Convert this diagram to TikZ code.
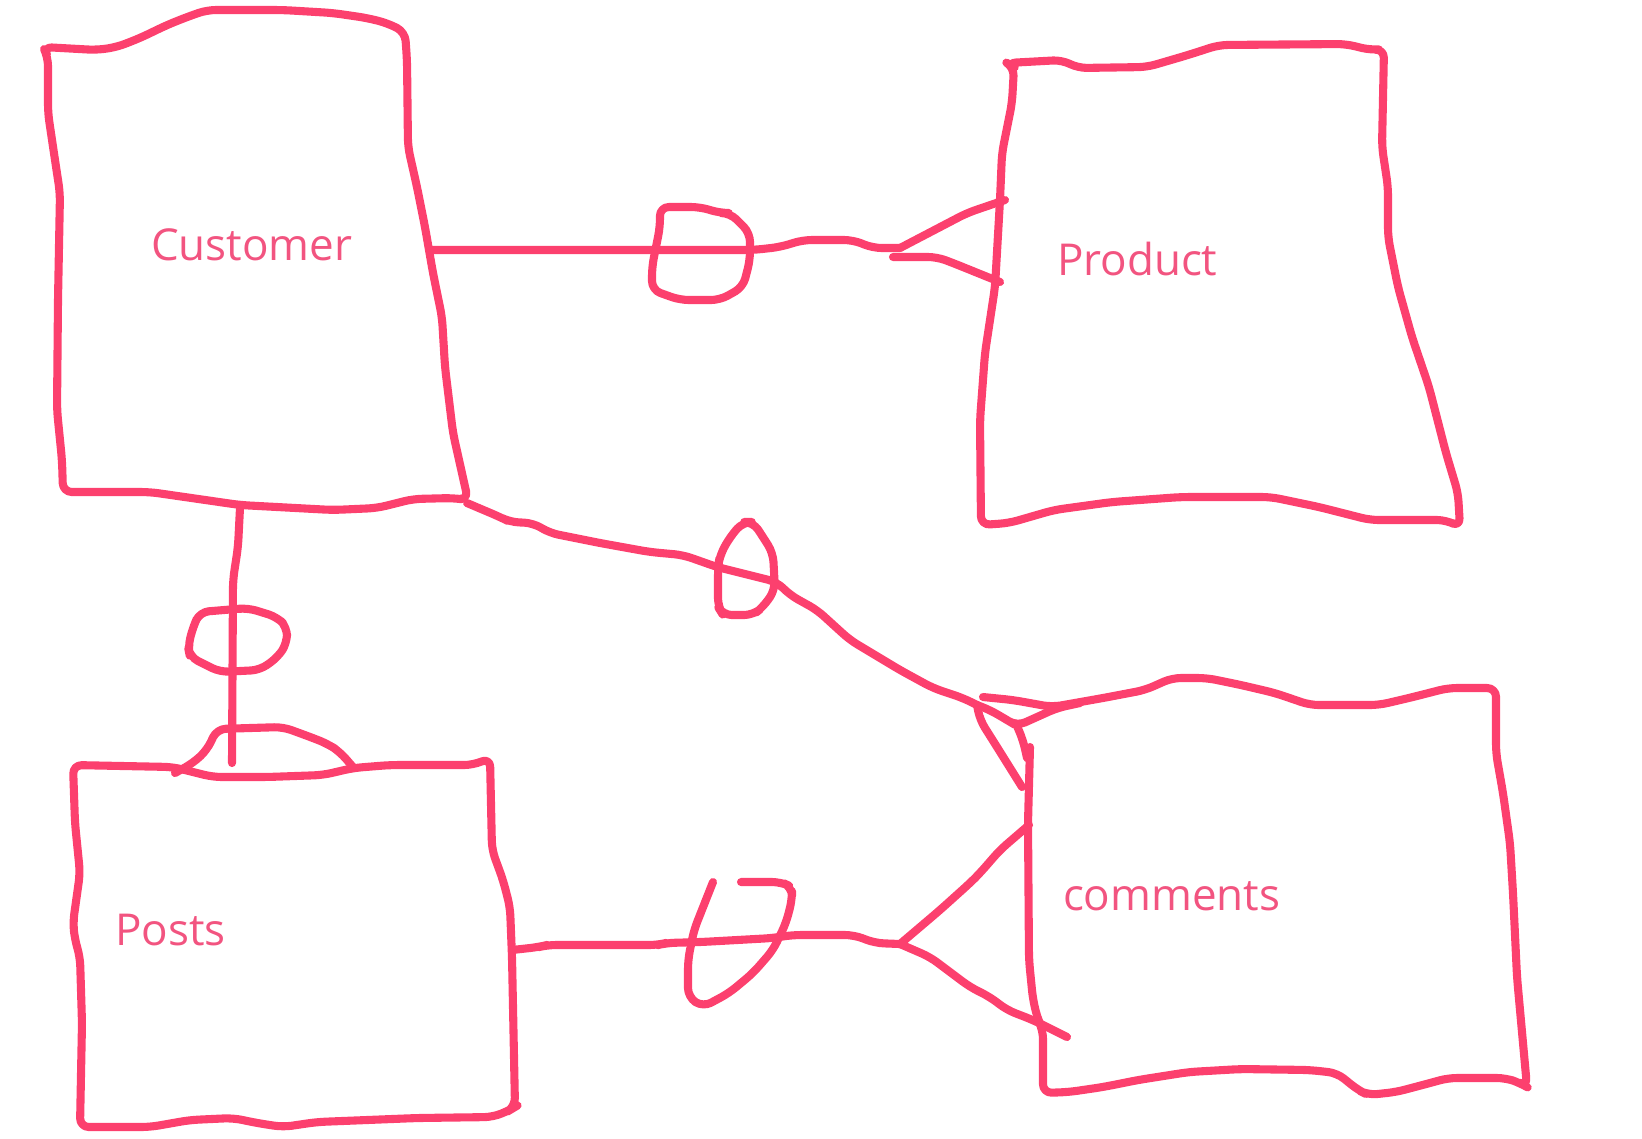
\documentclass[tikz,border=0pt]{standalone}
\usepackage{fontspec}
\setmainfont{Open Sans}
\definecolor{inkred}{RGB}{252,64,110}
\definecolor{inktext}{RGB}{242,84,128}

\begin{document}
\begin{tikzpicture}
[x=0.01cm, y=-0.01cm, line width=2.3pt, line cap=round, line join=round,
 ink/.style={draw=inkred, rounded corners=2.5pt},
 entity/.style={inner sep=0pt, anchor=base west, text=inktext, font=\fontsize{12.5}{15}\selectfont}]
\useasboundingbox (0,0) rectangle (1642,1138);

\node [entity] (customer) at (147,260) {Customer};
\node [entity] (product) at (1053,275) {Product};
\node [entity] (posts) at (111,945) {Posts};
\node [entity] (comments) at (1059,910) {comments};

\coordinate (cust-e) at (430,250);
\coordinate (cust-s) at (240,508);
\coordinate (cust-se) at (467,503);
\coordinate (prod-foot) at (900,248);
\coordinate (posts-n) at (232,763);
\coordinate (posts-e) at (512,950);
\coordinate (comm-nw) at (977,705);
\coordinate (comm-foot) at (900,944);

\draw [ink] (43,47) -- (97,50) -- (117,47) -- (140,38) -- (167,25) -- (187,17) -- (207,10) -- (283,10) -- (333,13) -- (367,18) -- (387,23) -- (405,32) -- (407,60) -- (408,147) -- (417,187) -- (425,227) -- (433,273) -- (442,317) -- (445,367) -- (453,433) -- (468,500) -- (453,498) -- (413,499) -- (377,508) -- (333,510) -- (240,505) -- (150,492) -- (63,492) -- (62,460) -- (57,410) -- (58,300) -- (60,193) -- (55,160) -- (48,113) -- (48,57) -- cycle;
\draw [ink] (1007,63) -- (1062,60) -- (1078,68) -- (1147,67) -- (1188,55) -- (1219,45) -- (1346,44) -- (1370,50) -- (1384,49) -- (1382,147) -- (1388,187) -- (1388,237) -- (1398,287) -- (1412,337) -- (1429,387) -- (1446,453) -- (1458,493) -- (1460,527) -- (1446,520) -- (1370,520) -- (1319,507) -- (1271,497) -- (1181,497) -- (1112,502) -- (1054,510) -- (1009,523) -- (981,525) -- (980,420) -- (985,353) -- (995,287) -- (1000,200) -- (1002,153) -- (1012,103) -- (1014,67) -- cycle;
\draw [ink] (73,765) -- (173,767) -- (213,777) -- (267,777) -- (323,775) -- (353,768) -- (390,765) -- (473,765) -- (490,758) -- (492,850) -- (503,880) -- (510,907) -- (512,957) -- (513,1007) -- (515,1107) -- (510,1110) -- (493,1117) -- (417,1118) -- (317,1122) -- (283,1127) -- (257,1123) -- (233,1118) -- (190,1120) -- (150,1127) -- (80,1127) -- (82,1023) -- (80,957) -- (75,940) -- (73,923) -- (80,873) -- (75,823) -- cycle;
\draw [ink] (1030,747) -- (1028,823) -- (1029,960) -- (1033,1000) -- (1038,1020) -- (1043,1030) -- (1043,1093) -- (1069,1092) -- (1103,1087) -- (1138,1080) -- (1189,1072) -- (1241,1069) -- (1310,1070) -- (1337,1073) -- (1358,1090) -- (1368,1095) -- (1396,1092) -- (1430,1083) -- (1448,1078) -- (1506,1078) -- (1520,1083) -- (1527,1087) -- (1523,1043) -- (1517,977) -- (1513,893) -- (1510,843) -- (1503,793) -- (1496,753) -- (1496,688) -- (1448,688) -- (1413,697) -- (1379,705) -- (1310,705) -- (1275,693) -- (1241,685) -- (1207,678) -- (1172,678) -- (1145,690) -- (1103,698) -- (1052,707) -- (1013,700) -- (983,697);

\draw [ink] (cust-e) -- (753,250) -- (780,247) -- (803,240) -- (853,240) -- (873,248) -- (prod-foot);
\draw [ink] (prod-foot) -- (967,213) -- (1005,200);
\draw [ink] (893,257) -- (937,257) -- (953,263) -- (1000,282);
\draw [ink] (660,207) -- (700,207) -- (720,213) -- (730,213) -- (750,233) -- (750,260) -- (743,287) -- (720,300) -- (680,300) -- (652,290) -- (652,267) -- (660,227) -- cycle;

\draw [ink] (cust-s) -- (238,547) -- (233,580) -- (posts-n);
\draw [ink] (200,612) -- (248,608) -- (277,617) -- (287,627) -- (287,643) -- (278,657) -- (260,670) -- (220,672) -- (190,657) -- (188,647) -- (193,627) -- cycle;
\draw [ink] (175,773) -- (193,763) -- (207,750) -- (217,729) -- (283,727) -- (313,738) -- (328,744) -- (340,752) -- (353,767);

\draw [ink] (cust-se) -- (500,517) -- (510,522) -- (533,523) -- (550,533) -- (600,543) -- (650,552) -- (683,555) -- (717,567) -- (777,582) -- (790,595) -- (817,610) -- (850,640) -- (900,670) -- (933,688) -- (963,698) -- (comm-nw);
\draw [ink] (718,567) -- (720,555) -- (730,537) -- (743,522) -- (753,522) -- (763,537) -- (773,553) -- (775,590) -- (763,607) -- (753,615) -- (723,615) -- (718,607) -- cycle;
\draw [ink] (comm-nw) -- (980,720) -- (997,747) -- (1007,763) -- (1022,787);
\draw [ink] (comm-nw) -- (990,710) -- (1007,720) -- (1017,726) -- (1037,717) -- (1057,708) -- (1080,703);
\draw [ink] (1017,726) -- (1023,740) -- (1027,758);

\draw [ink] (posts-e) -- (539,947) -- (547,945) -- (658,945) -- (666,943) -- (701,942) -- (773,938) -- (792,935) -- (854,935) -- (875,943) -- (comm-foot);
\draw [ink] (comm-foot) -- (940,910) -- (970,883) -- (980,873) -- (1000,850) -- (1029,825);
\draw [ink] (comm-foot) -- (930,957) -- (970,987) -- (990,997) -- (1007,1010) -- (1033,1020) -- (1067,1037);
\draw [ink] (713,882) -- (694,930) -- (688,960) -- (688,997) -- (703,1007) -- (729,993) -- (753,973) -- (773,950) -- (786,923) -- (792,900) -- (792,887) -- (781,882) -- (741,882);
\end{tikzpicture}
\end{document}
